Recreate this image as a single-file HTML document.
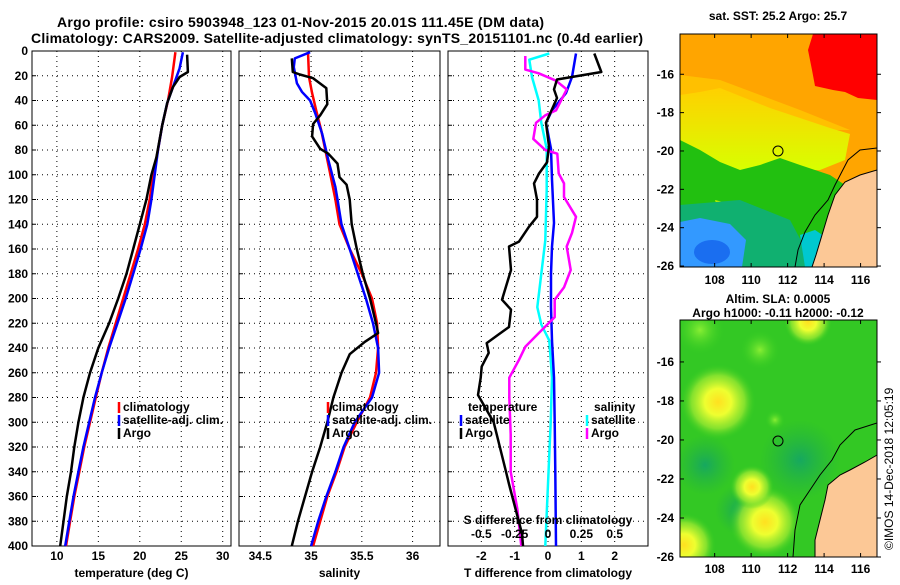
<!DOCTYPE html>
<html><head><meta charset="utf-8"><style>
html,body{margin:0;padding:0;background:#fff;}
svg text{font-family:"Liberation Sans",Arial,sans-serif;font-weight:bold;fill:#000;}
</style></head><body>
<svg id="fig" width="900" height="580" viewBox="0 0 900 580" xmlns="http://www.w3.org/2000/svg">
<defs>
<radialGradient id="yb"><stop offset="0" stop-color="#ffe020"/><stop offset="0.35" stop-color="#eeff30"/><stop offset="0.7" stop-color="#99e830" stop-opacity="0.8"/><stop offset="1" stop-color="#33cc22" stop-opacity="0"/></radialGradient>
<radialGradient id="gb"><stop offset="0" stop-color="#88ee33"/><stop offset="1" stop-color="#33cc22" stop-opacity="0"/></radialGradient>
<radialGradient id="db"><stop offset="0" stop-color="#16a860"/><stop offset="1" stop-color="#22b040" stop-opacity="0"/></radialGradient>
<linearGradient id="sstY" x1="0" y1="0" x2="0" y2="1"><stop offset="0" stop-color="#ffd000"/><stop offset="1" stop-color="#d8ff00"/></linearGradient>
<clipPath id="c1"><rect x="680" y="34" width="197" height="233"/></clipPath>
<clipPath id="c2"><rect x="680" y="320" width="197" height="237"/></clipPath>
</defs>
<text x="57" y="27" font-size="14" textLength="487">Argo profile: csiro 5903948_123 01-Nov-2015 20.01S 111.45E (DM data)</text>
<text x="31" y="43" font-size="14" textLength="612">Climatology: CARS2009. Satellite-adjusted climatology: synTS_20151101.nc (0.4d earlier)</text>
<g id="g1"></g>
<g id="g2"></g>
<g id="g3"></g>

<!-- SST map -->
<g clip-path="url(#c1)">
<rect x="680" y="34" width="197" height="233" fill="#ffa500"/>
<polygon fill="#ff0000" points="813,34 877,34 877,100 858,98 845,92 833,90 815,86 812,70 808,50"/>
<polygon fill="#ffc000" points="680,75 720,80 760,95 800,110 830,122 850,130 680,130"/>
<polygon fill="url(#sstY)" points="680,95 700,92 720,88 745,98 770,108 800,118 830,128 850,134 845,160 820,170 680,170"/>
<polygon fill="#22c010" points="680,140 700,150 720,162 740,170 760,165 780,158 800,165 830,175 845,185 835,267 680,267"/>
<polygon fill="#b8f000" points="715,200 735,205 745,220 740,228 720,215"/>
<polygon fill="#10b070" points="680,205 740,200 790,220 815,267 680,267"/>
<polygon fill="#3399ff" points="680,222 700,218 730,224 746,240 742,267 680,267"/>
<ellipse cx="712" cy="252" rx="18" ry="12" fill="#1a6ef0"/>
<polygon fill="#00c8d0" points="800,235 815,230 830,240 826,267 805,267"/>
<polygon fill="#fcc896" stroke="#000" stroke-width="1" points="877,170 860,175 845,182 835,195 828,215 822,235 816,255 812,267 877,267"/>
<polyline fill="none" stroke="#000" stroke-width="1" points="877,148 860,150 848,160 835,185 828,200 815,215 805,232 798,250 795,267"/>
<circle cx="778" cy="151" r="5" fill="none" stroke="#000" stroke-width="1"/>
</g>
<rect x="680" y="34" width="197" height="233" fill="none" stroke="#000"/>
<text x="778" y="20" font-size="12" text-anchor="middle">sat. SST: 25.2 Argo: 25.7</text>

<!-- SLA map -->
<g clip-path="url(#c2)">
<rect x="680" y="320" width="197" height="237" fill="#33c824"/>
<circle cx="800" cy="460" r="40" fill="url(#db)"/>
<circle cx="705" cy="465" r="30" fill="url(#db)"/>
<circle cx="740" cy="510" r="25" fill="url(#db)"/>
<circle cx="718" cy="402" r="38" fill="url(#yb)"/>
<circle cx="765" cy="522" r="36" fill="url(#yb)"/>
<circle cx="684" cy="545" r="32" fill="url(#yb)"/>
<circle cx="752" cy="487" r="22" fill="url(#yb)"/>
<circle cx="808" cy="322" r="24" fill="url(#yb)"/>
<circle cx="760" cy="350" r="20" fill="url(#gb)"/>
<circle cx="700" cy="330" r="25" fill="url(#gb)"/>
<circle cx="775" cy="420" r="10" fill="url(#gb)"/>
<polygon fill="#fcc896" stroke="#000" stroke-width="1" points="877,455 865,462 850,470 840,475 828,485 825,500 820,520 815,540 815,557 877,557"/>
<polyline fill="none" stroke="#000" stroke-width="1" points="877,423 855,430 840,445 832,460 820,475 810,490 800,505 795,530 793,557"/>
<circle cx="778" cy="441" r="5" fill="none" stroke="#000" stroke-width="1"/>
</g>
<rect x="680" y="320" width="197" height="237" fill="none" stroke="#000"/>
<text x="778" y="303" font-size="12" text-anchor="middle">Altim. SLA: 0.0005</text>
<text x="778" y="317" font-size="12" text-anchor="middle">Argo h1000: -0.11 h2000: -0.12</text>
<g id="mapaxes"></g>
<text transform="translate(893,550) rotate(-90)" font-size="12" style="font-weight:normal">©IMOS 14-Dec-2018 12:05:19</text>
</svg>
<script>
const NS='http://www.w3.org/2000/svg';
// ---- data ----
const depthTicks=[0,20,40,60,80,100,120,140,160,180,200,220,240,260,280,300,320,340,360,380,400];
const tempTicks=[10,15,20,25,30];
const salTicks=[34.5,35,35.5,36];
const tdiffTicks=[-2,-1,0,1,2];
const sdiffTicks=[-0.5,-0.25,0,0.25,0.5];
const sdiffTickLabels=['-0.5','-0.25','0','0.25','0.5'];

const tClimDepth=[1,21,40,60,80,100,120,140,160,180,200,220,240,260,280,300,320,340,360,380,400];
const tClimVal=[24.3,23.9,23.4,22.7,22.2,21.6,21.2,20.6,19.8,18.9,18.0,17.1,16.2,15.4,14.7,14.0,13.3,12.7,12.1,11.6,11.1];
const tSatDepth=[1,14,29,42,60,80,100,120,140,160,180,200,220,240,260,280,300,320,340,360,380,400];
const tSatVal=[25.2,24.8,24.0,23.3,22.7,22.2,21.8,21.4,20.9,20.1,19.2,18.3,17.3,16.3,15.4,14.6,13.9,13.2,12.6,12.0,11.5,11.0];
const tArgoDepth=[3,17,21,29,42,60,86,100,120,140,160,180,200,220,240,260,280,300,320,340,360,380,400];
const tArgoVal=[25.7,25.8,24.8,24.0,23.3,22.7,22.0,21.4,20.8,20.0,19.2,18.4,17.4,16.3,15.0,14.0,13.2,12.6,12.1,11.7,11.2,10.8,10.4];

const sClimDepth=[1,21,34,48,64,80,100,120,140,160,180,200,220,240,260,280,300,320,340,360,380,400];
const sClimVal=[34.97,34.98,35.01,35.05,35.10,35.14,35.19,35.24,35.28,35.38,35.50,35.60,35.65,35.66,35.64,35.58,35.45,35.33,35.25,35.16,35.09,35.02];
const sSatDepth=[1,6,13,26,33,40,50,67,88,110,120,140,160,180,200,220,240,260,280,300,320,340,360,380,400];
const sSatVal=[34.99,34.84,34.83,34.86,34.91,34.99,35.04,35.11,35.17,35.24,35.26,35.30,35.38,35.46,35.54,35.61,35.66,35.67,35.60,35.43,35.32,35.24,35.15,35.07,35.00];
const sArgoDepth=[6,17,19,22,30,43,52,59,69,79,83,91,102,108,120,140,160,180,200,220,228,235,245,260,280,300,320,340,360,380,400];
const sArgoVal=[34.81,34.82,34.89,35.02,35.15,35.16,35.09,35.02,35.01,35.09,35.17,35.26,35.28,35.35,35.38,35.40,35.45,35.51,35.58,35.64,35.66,35.53,35.38,35.30,35.22,35.16,35.09,35.01,34.94,34.87,34.81];

const dtSatDepth=[2,21,34,48,58,79,104,139,158,180,207,234,264,300,340,400];
const dtSatVal=[0.84,0.72,0.54,0.12,-0.06,0.09,0.12,0.18,0.12,0.09,0.09,0.12,0.18,0.20,0.22,0.24];
const dtArgoDepth=[2,17,23,31,38,58,77,90,99,107,120,134,142,154,158,177,201,209,223,229,236,244,255,264,278,300,339,350,390,400];
const dtArgoVal=[1.39,1.60,0.27,0.18,0.27,-0.06,0.03,-0.03,-0.27,-0.42,-0.33,-0.33,-0.57,-0.87,-1.17,-1.11,-1.38,-1.11,-1.17,-1.48,-1.84,-1.78,-1.99,-2.02,-2.10,-1.63,-1.27,-1.17,-0.78,-0.75];
const dsSatDepth=[2,7,21,40,58,79,112,153,180,207,221,234,264,300,350,400];
const dsSatVal=[0.01,-0.14,-0.12,-0.07,-0.05,-0.01,-0.01,-0.02,-0.05,-0.08,-0.05,0.01,0.03,0.02,0.0,-0.02];
const dsArgoDepth=[4,15,18,24,31,48,52,58,71,80,83,99,107,118,134,147,158,177,191,201,215,228,239,250,264,280,310,340,370,400];
const dsArgoVal=[-0.17,-0.17,-0.07,0.06,0.14,0.06,-0.02,-0.09,-0.11,-0.02,0.07,0.08,0.12,0.12,0.21,0.18,0.14,0.17,0.12,0.05,0.05,-0.07,-0.17,-0.22,-0.29,-0.29,-0.28,-0.28,-0.23,-0.2];

const mapLonTicks=[108,110,112,114,116];
const mapLatTicks=[-16,-18,-20,-22,-24,-26];

// ---- helpers ----
const TOP=51,BOT=546;
const yD=d=>TOP+(BOT-TOP)*d/400;
function el(tag,attrs,parent){const e=document.createElementNS(NS,tag);for(const k in attrs)e.setAttribute(k,attrs[k]);parent.appendChild(e);return e;}
function txt(str,attrs,parent){const e=el('text',attrs,parent);e.textContent=str;return e;}

function panel(g,x0,x1,xmin,xmax,xticks,xlabels,xtitle,showDepth){
  const xS=v=>x0+(x1-x0)*(v-xmin)/(xmax-xmin);
  depthTicks.forEach((d,i)=>{
    if(i>0&&i<depthTicks.length-1){const l=el('line',{x1:x0,x2:x1,y1:yD(d),y2:yD(d),stroke:'#000','stroke-width':1,'stroke-dasharray':'1,4'},g);
    
    }
    const t=el('line',{x1:x0,x2:x0+4,y1:yD(d),y2:yD(d),stroke:'#000'},g);
    
    
    if(showDepth){const tl=txt(String(d),{x:x0-4,y:yD(d)+4,'font-size':12,'text-anchor':'end'},g);
    
    }
  });
  xticks.forEach((v,i)=>{
    const l=el('line',{x1:xS(v),x2:xS(v),y1:TOP,y2:BOT,stroke:'#000','stroke-width':1,'stroke-dasharray':'1,4'},g);
    
    
    const tl=txt(xlabels[i],{x:xS(v),y:BOT+14,'font-size':12,'text-anchor':'middle'},g);
    
    
  });
  const r=el('rect',{x:x0,y:TOP,width:x1-x0,height:BOT-TOP,fill:'none',stroke:'#000'},g);
  
  
  const tt=txt(xtitle,{x:(x0+x1)/2,y:BOT+31,'font-size':12,'text-anchor':'middle'},g);
  
  
  return xS;
}
function line(g,xS,depths,vals,color,name){
  const pts=depths.map((d,i)=>xS(vals[i]).toFixed(1)+','+yD(d).toFixed(1)).join(' ');
  const p=el('polyline',{points:pts,fill:'none',stroke:color,'stroke-width':2.5,'stroke-linejoin':'round'},g);
  
  
}
function legendItem(g,x,y,color,label,name){
  const m=el('line',{x1:x,x2:x,y1:y-9,y2:y+2,stroke:color,'stroke-width':2.5},g);
  
  
  const t=txt(label,{x:x+4,y:y,'font-size':12},g);
  
  
}

const g1=document.getElementById('g1');
const xT=panel(g1,32,231,7,31,tempTicks,tempTicks.map(String),'temperature (deg C)',true);
line(g1,xT,tClimDepth,tClimVal,'#ff0000','temp-climatology-line');
line(g1,xT,tSatDepth,tSatVal,'#0000ff','temp-satellite-line');
line(g1,xT,tArgoDepth,tArgoVal,'#000','temp-argo-line');
legendItem(g1,119,411,'#ff0000','climatology','legend-climatology');
legendItem(g1,119,424,'#0000ff','satellite-adj. clim.','legend-satellite');
legendItem(g1,119,437,'#000','Argo','legend-argo');

const g2=document.getElementById('g2');
const xS2=panel(g2,239,440,34.29,36.27,salTicks,salTicks.map(String),'salinity',false);
line(g2,xS2,sClimDepth,sClimVal,'#ff0000','sal-climatology-line');
line(g2,xS2,sSatDepth,sSatVal,'#0000ff','sal-satellite-line');
line(g2,xS2,sArgoDepth,sArgoVal,'#000','sal-argo-line');
legendItem(g2,328,411,'#ff0000','climatology','legend-climatology');
legendItem(g2,328,424,'#0000ff','satellite-adj. clim.','legend-satellite');
legendItem(g2,328,437,'#000','Argo','legend-argo');

const g3=document.getElementById('g3');
const xD=panel(g3,448,648,-3,3,tdiffTicks,tdiffTicks.map(String),'T difference from climatology',false);
const xDS=v=>xD(v*4);
line(g3,xDS,dsSatDepth,dsSatVal,'#00ffff','sdiff-satellite-line');
line(g3,xD,dtSatDepth,dtSatVal,'#0000ff','tdiff-satellite-line');
line(g3,xDS,dsArgoDepth,dsArgoVal,'#ff00ff','sdiff-argo-line');
line(g3,xD,dtArgoDepth,dtArgoVal,'#000','tdiff-argo-line');
const lt=txt('temperature',{x:468,y:411,'font-size':12},g3);


legendItem(g3,461,424,'#0000ff','satellite','legend-temp-satellite');
legendItem(g3,461,437,'#000','Argo','legend-temp-argo');
const ls=txt('salinity',{x:594,y:411,'font-size':12},g3);


legendItem(g3,587,424,'#00ffff','satellite','legend-sal-satellite');
legendItem(g3,587,437,'#ff00ff','Argo','legend-sal-argo');
const st=txt('S difference from climatology',{x:548,y:524,'font-size':12,'text-anchor':'middle'},g3);


sdiffTicks.forEach((v,i)=>{
  const t=txt(sdiffTickLabels[i],{x:xDS(v),y:538,'font-size':12,'text-anchor':'middle'},g3);
  
  
});

const ma=document.getElementById('mapaxes');
function mapAxes(x0,x1,y0,y1,lon0,lon1,lat0,lat1,labelY){
  const xl=v=>x0+(x1-x0)*(v-lon0)/(lon1-lon0);
  const yl=v=>y0+(y1-y0)*(v-lat0)/(lat1-lat0);
  mapLonTicks.forEach(v=>{
    const t=el('line',{x1:xl(v),x2:xl(v),y1:y1,y2:y1-4,stroke:'#000'},ma);
    
    
    const t2=el('line',{x1:xl(v),x2:xl(v),y1:y0,y2:y0+4,stroke:'#000'},ma);
    
    
    const l=txt(String(v),{x:xl(v),y:labelY,'font-size':12,'text-anchor':'middle'},ma);
    
    
  });
  mapLatTicks.forEach(v=>{
    const t=el('line',{x1:x0,x2:x0+4,y1:yl(v),y2:yl(v),stroke:'#000'},ma);
    
    
    const t2=el('line',{x1:x1,x2:x1+4,y1:yl(v),y2:yl(v),stroke:'#000'},ma);
    
    
    const l=txt(String(v),{x:x0-6,y:yl(v)+4,'font-size':12,'text-anchor':'end'},ma);
    
    
  });
}
mapAxes(680,877,34,267,106.1,116.9,-13.9,-26.05,284);
mapAxes(680,877,320,557,106.1,116.9,-13.85,-26.0,573);
</script>
</body></html>
